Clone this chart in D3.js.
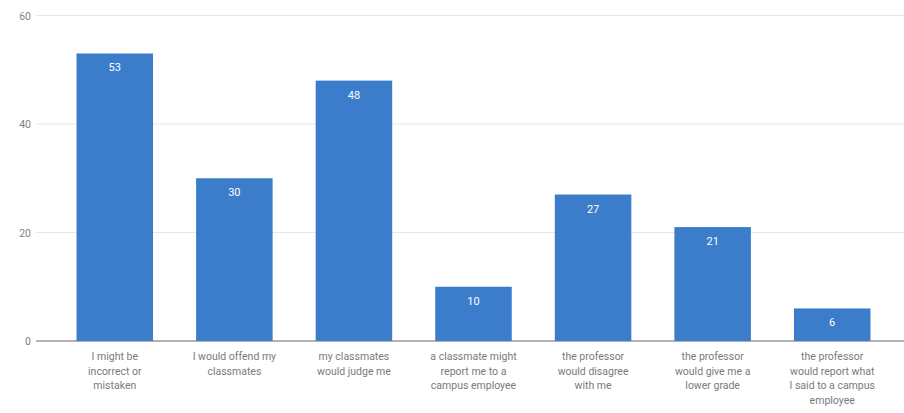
<!DOCTYPE html>
<html><head><meta charset="utf-8">
<script src="https://cdn.jsdelivr.net/npm/d3@7"></script>
<style>body{margin:0;background:#fff;} svg{display:block;font-family:Roboto, "Open Sans", sans-serif;}</style>
</head><body>
<svg id="c" width="904" height="413"></svg>
<script>
const categories = [
  "I might be\nincorrect or\nmistaken",
  "I would offend my\nclassmates",
  "my classmates\nwould judge me",
  "a classmate might\nreport me to a\ncampus employee",
  "the professor\nwould disagree\nwith me",
  "the professor\nwould give me a\nlower grade",
  "the professor\nwould report what\nI said to a campus\nemployee"
];
const values = [53, 30, 48, 10, 27, 21, 6];
const yTicks = [0, 20, 40, 60];

const svg = d3.select("#c");
const x = d3.scaleBand().domain(categories).range([55, 892]).paddingInner(0.36).paddingOuter(0.18);
const y = d3.scaleLinear().domain([0, 60]).range([341, 15.5]);

// gridlines
svg.append("g").selectAll("line").data(yTicks).join("line")
  .attr("x1", 36).attr("x2", 904)
  .attr("y1", d => y(d)).attr("y2", d => y(d))
  .attr("stroke", d => d === 0 ? "#666" : "#e6e6e6")
  .attr("stroke-width", 1);
svg.append("g").selectAll("text").data(yTicks).join("text")
  .attr("x", 31).attr("y", d => y(d) + 4)
  .attr("text-anchor", "end").attr("font-size", 10.5).attr("fill", "#808080")
  .text(d => d);

// bars
svg.append("g").selectAll("rect").data(values).join("rect")
  .attr("x", (d, i) => x(categories[i])).attr("width", x.bandwidth())
  .attr("y", d => y(d)).attr("height", d => y(0) - y(d))
  .attr("fill", "#3b7dca");
svg.append("g").selectAll("text").data(values).join("text")
  .attr("x", (d, i) => x(categories[i]) + x.bandwidth() / 2)
  .attr("y", d => y(d) + 18)
  .attr("text-anchor", "middle").attr("font-size", 11).attr("fill", "#fff")
  .text(d => d);

// category labels
const lab = svg.append("g").selectAll("text").data(categories).join("text")
  .attr("text-anchor", "middle").attr("font-size", 10.5).attr("fill", "#7a7a7a")
  .attr("transform", d => `translate(${x(d) + x.bandwidth() / 2},360)`);
lab.selectAll("tspan").data(d => d.split("\n")).join("tspan")
  .attr("x", 0).attr("dy", (d, i) => i === 0 ? 0 : 14.5).text(d => d);
</script>
</body></html>
